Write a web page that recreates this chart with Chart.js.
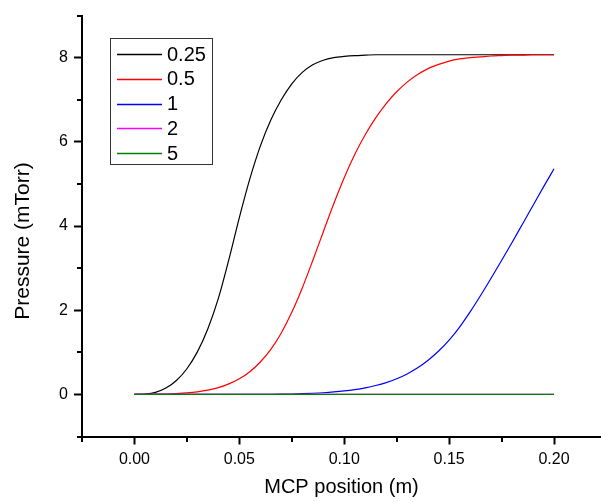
<!DOCTYPE html>
<html lang="en">
  <head>
    <meta charset="UTF-8" />
    <title>MCP pressure</title>
    <script src="https://cdn.jsdelivr.net/npm/chart.js"></script>
    <style>
      html, body { margin: 0; padding: 0; background: #fff; }
      #wrap { width: 601px; height: 502px; }
    </style>
  </head>
  <body>
    <div id="wrap"><canvas id="my-chart" width="601" height="502"></canvas></div>

    <script>
      //x positions (m), shared by all series
      const positions = [
        0, 0.005, 0.01, 0.015, 0.02, 0.025, 0.03, 0.035, 0.04, 0.045,
        0.05, 0.055, 0.06, 0.065, 0.07, 0.075, 0.08, 0.085, 0.09, 0.095,
        0.1, 0.105, 0.11, 0.115, 0.12, 0.125, 0.13, 0.135, 0.14, 0.145,
        0.15, 0.155, 0.16, 0.165, 0.17, 0.175, 0.18, 0.185, 0.19, 0.195, 0.2
      ];
      //pressure (mTorr) for each legend entry
      const p025 = [
        0, 0.01, 0.05, 0.15, 0.33, 0.61, 1.01, 1.56, 2.28, 3.2,
        4.2, 5.12, 5.9, 6.52, 7.0, 7.38, 7.65, 7.83, 7.94, 8.0,
        8.03, 8.05, 8.06, 8.07, 8.07, 8.07, 8.07, 8.07, 8.07, 8.07,
        8.07, 8.07, 8.07, 8.07, 8.07, 8.07, 8.07, 8.07, 8.07, 8.07, 8.07
      ];
      const p05 = [
        0, 0, 0.005, 0.01, 0.02, 0.035, 0.06, 0.1, 0.16, 0.25,
        0.37, 0.54, 0.77, 1.07, 1.46, 1.95, 2.53, 3.18, 3.86, 4.53,
        5.15, 5.7, 6.17, 6.57, 6.91, 7.19, 7.42, 7.6, 7.74, 7.84,
        7.92, 7.97, 8.0, 8.02, 8.04, 8.05, 8.06, 8.06, 8.07, 8.07, 8.07
      ];
      const p1 = [
        0, 0, 0, 0, 0, 0, 0, 0, 0, 0,
        0, 0, 0, 0.002, 0.005, 0.01, 0.017, 0.027, 0.04, 0.058,
        0.082, 0.114, 0.156, 0.211, 0.281, 0.371, 0.486, 0.631, 0.811, 1.03,
        1.29, 1.6, 1.96, 2.35, 2.76, 3.18, 3.61, 4.05, 4.49, 4.93, 5.36
      ];
      const p2 = [
        0, 0, 0, 0, 0, 0, 0, 0, 0, 0,
        0, 0, 0, 0, 0, 0, 0, 0, 0, 0,
        0, 0, 0, 0, 0, 0, 0, 0, 0, 0,
        0, 0, 0, 0, 0, 0, 0, 0, 0, 0, 0
      ];
      const p5 = [
        0, 0, 0, 0, 0, 0, 0, 0, 0, 0,
        0, 0, 0, 0, 0, 0, 0, 0, 0, 0,
        0, 0, 0, 0, 0, 0, 0, 0, 0, 0,
        0, 0, 0, 0, 0, 0, 0, 0, 0, 0, 0
      ];
      const seriesLabels = ["0.25", "0.5", "1", "2", "5"];
      const seriesColors = ["#000000", "#ff0000", "#0000ff", "#ff00ff", "#008000"];
      const seriesValues = [p025, p05, p1, p2, p5];

      //tick values
      const xMajorTicks = [0, 0.05, 0.1, 0.15, 0.2];
      const xMinorTicks = [-0.025, 0.025, 0.075, 0.125, 0.175];
      const yMajorTicks = [0, 2, 4, 6, 8];
      const yMinorTicks = [-1, 1, 3, 5, 7, 9];

      const FONT = "'Liberation Sans', Arial, sans-serif";

      //build datasets from the arrays above
      //later series drawn on top (lower order = on top in chartjs)
      const datasets = seriesValues.map((vals, i) => ({
        label: seriesLabels[i],
        data: positions.map((x, j) => ({ x: x, y: vals[j] })),
        borderColor: seriesColors[i],
        backgroundColor: seriesColors[i],
        borderWidth: 1.2,
        pointRadius: 0,
        cubicInterpolationMode: "monotone",
        fill: false,
        order: seriesValues.length - i,
      }));

      //minor ticks, y title and the boxed legend
      const extrasPlugin = {
        id: "extras",
        afterDraw(chart) {
          const c = chart.ctx;
          const xs = chart.scales.x;
          const ys = chart.scales.y;
          const area = chart.chartArea;
          const bottom = Math.round(area.bottom);
          c.save();
          c.strokeStyle = "#000";
          c.lineWidth = 2;
          c.beginPath();
          xMinorTicks.forEach((v) => {
            const px = Math.round(xs.getPixelForValue(v));
            c.moveTo(px, bottom);
            c.lineTo(px, bottom + 5);
          });
          yMinorTicks.forEach((v) => {
            const py = Math.round(ys.getPixelForValue(v));
            c.moveTo(area.left, py);
            c.lineTo(area.left - 5, py);
          });
          c.stroke();

          //y axis title
          c.save();
          c.translate(23, 241);
          c.rotate(-Math.PI / 2);
          c.font = "21px " + FONT;
          c.fillStyle = "#000";
          c.textAlign = "center";
          c.textBaseline = "middle";
          c.fillText("Pressure (mTorr)", 0, 0);
          c.restore();

          //legend box
          c.lineWidth = 1;
          c.strokeStyle = "#333";
          c.fillStyle = "#fff";
          c.fillRect(110.5, 38.5, 102, 126);
          c.strokeRect(110.5, 38.5, 102, 126);
          c.font = "20px " + FONT;
          c.textBaseline = "middle";
          c.textAlign = "left";
          chart.data.datasets.forEach((ds, i) => {
            const y = 54 + i * 24.8;
            c.strokeStyle = ds.borderColor;
            c.lineWidth = 1.5;
            c.beginPath();
            c.moveTo(117, Math.round(y) + 0.5);
            c.lineTo(162, Math.round(y) + 0.5);
            c.stroke();
            c.fillStyle = "#000";
            c.fillText(ds.label, 167, y + 1);
          });
          c.restore();
        },
      };

      const ctx = document.getElementById("my-chart").getContext("2d");
      const myChart = new Chart(ctx, {
        type: "line",
        data: { datasets: datasets },
        options: {
          responsive: false,
          animation: false,
          layout: { padding: { top: 15, right: 0, bottom: 0, left: 0 } },
          plugins: {
            legend: { display: false },
            tooltip: { enabled: false },
          },
          scales: {
            x: {
              type: "linear",
              min: -0.025,
              max: 0.2224,
              afterBuildTicks: (scale) => {
                scale.ticks = xMajorTicks.map((v) => ({ value: v }));
              },
              afterFit: (scale) => {
                scale.height = 65.5;
              },
              ticks: {
                color: "#000",
                font: { family: FONT, size: 16 },
                padding: 5,
                maxRotation: 0,
                callback: (v) => v.toFixed(2),
              },
              grid: {
                drawOnChartArea: false,
                drawTicks: true,
                tickLength: 8,
                tickWidth: 2,
                tickColor: "#000",
              },
              border: { color: "#000", width: 2 },
              title: {
                display: true,
                text: "MCP position (m)",
                color: "#000",
                font: { family: FONT, size: 20 },
                padding: { top: 0, bottom: 3 },
              },
            },
            y: {
              min: -1,
              max: 9,
              afterBuildTicks: (scale) => {
                scale.ticks = yMajorTicks.map((v) => ({ value: v }));
              },
              afterFit: (scale) => {
                scale.width = 82;
              },
              ticks: {
                color: "#000",
                font: { family: FONT, size: 16 },
                padding: 6,
                callback: (v) => String(v),
              },
              grid: {
                drawOnChartArea: false,
                drawTicks: true,
                tickLength: 8,
                tickWidth: 2,
                tickColor: "#000",
              },
              border: { color: "#000", width: 2 },
              title: { display: false },
            },
          },
        },
        plugins: [extrasPlugin],
      });
    </script>
  </body>
</html>
